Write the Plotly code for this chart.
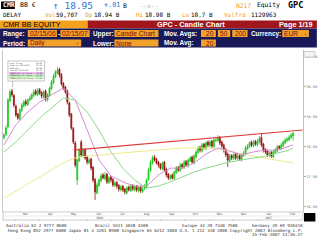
import plotly.graph_objects as go
import pandas as pd

W, H = 320, 243
ML, MR, MT, MB = 3, 14, 50, 31
PW = W - ML - MR
PH = H - MT - MB


def px(x):
    return (x - ML) / PW


def py(y):
    return (H - MB - y) / PH


start, end = "2006-02-15", "2007-02-15"

opens = [18.80, 18.90, 19.15, 20.02, 20.35, 20.20, 19.85, 19.58, 19.42, 19.70,
         19.85, 20.00, 19.90, 20.05, 20.10, 20.20, 20.35, 20.22, 20.40, 20.30,
         20.15, 20.35, 20.05, 20.20, 20.42, 20.62, 20.82, 20.95, 21.08, 20.90,
         20.60, 20.48, 20.35, 19.95, 19.58, 19.10, 18.62, 17.38, 18.02, 18.65,
         18.20, 18.40, 18.15, 17.95, 18.08, 17.80, 17.40, 16.95, 17.20, 17.35,
         17.55, 17.42, 17.58, 17.30, 17.48, 17.40, 17.20, 17.30, 17.20, 17.05,
         17.18, 17.08, 16.95, 17.15, 17.02, 17.20, 17.05, 17.18, 17.02, 17.15,
         17.00, 17.10, 17.15, 17.40, 17.70, 17.95, 18.15, 18.08, 17.98, 17.90,
         17.75, 17.98, 17.75, 17.58, 17.42, 17.55, 17.42, 17.62, 17.80, 17.70,
         17.90, 17.80, 18.00, 17.85, 18.02, 18.15, 17.95, 18.15, 18.30, 18.48,
         18.35, 18.58, 18.42, 18.65, 18.52, 18.68, 18.50, 18.70, 18.70, 18.80,
         18.65, 18.55, 18.40, 18.25, 18.02, 18.20, 18.10, 18.25, 18.10, 18.20,
         18.05, 18.20, 18.25, 18.42, 18.50, 18.65, 18.52, 18.68, 18.55, 18.65,
         18.80, 18.58, 18.40, 18.35, 18.20, 18.30, 18.15, 18.30, 18.35, 18.50,
         18.42, 18.52, 18.62, 18.70, 18.72, 18.80, 18.85]
highs = [18.95, 19.20, 20.12, 20.40, 20.42, 20.25, 19.90, 19.62, 19.78, 19.95,
         20.05, 20.08, 20.10, 20.20, 20.28, 20.40, 20.42, 20.45, 20.45, 20.35,
         20.38, 20.40, 20.28, 20.50, 20.72, 20.92, 21.05, 21.15, 21.12, 20.95,
         20.65, 20.52, 20.40, 20.00, 19.62, 19.15, 18.68, 18.10, 18.45, 18.72,
         18.45, 18.45, 18.20, 18.12, 18.12, 17.85, 17.45, 17.30, 17.45, 17.60,
         17.62, 17.65, 17.62, 17.52, 17.52, 17.45, 17.35, 17.35, 17.25, 17.22,
         17.22, 17.12, 17.18, 17.20, 17.25, 17.25, 17.22, 17.22, 17.18, 17.20,
         17.15, 17.25, 17.45, 17.80, 18.05, 18.20, 18.22, 18.12, 18.02, 17.95,
         18.00, 18.02, 17.80, 17.62, 17.58, 17.60, 17.70, 17.85, 17.85, 17.95,
         17.95, 18.05, 18.05, 18.10, 18.18, 18.20, 18.25, 18.38, 18.52, 18.52,
         18.62, 18.62, 18.68, 18.70, 18.72, 18.72, 18.80, 18.80, 18.88, 18.85,
         18.70, 18.60, 18.45, 18.30, 18.25, 18.25, 18.28, 18.30, 18.25, 18.25,
         18.28, 18.35, 18.52, 18.58, 18.68, 18.70, 18.72, 18.72, 18.75, 18.85,
         18.95, 18.62, 18.45, 18.40, 18.35, 18.35, 18.38, 18.45, 18.55, 18.55,
         18.62, 18.70, 18.78, 18.82, 18.88, 18.95, 18.98]
lows = [18.72, 18.85, 19.10, 19.98, 20.15, 19.80, 19.48, 19.38, 19.38, 19.65,
        19.80, 19.85, 19.85, 20.00, 20.05, 20.15, 20.20, 20.18, 20.22, 20.10,
        20.10, 20.00, 20.00, 20.15, 20.38, 20.58, 20.78, 20.90, 20.80, 20.52,
        20.38, 20.25, 19.90, 19.48, 19.05, 18.58, 17.80, 17.22, 17.98, 18.15,
        18.12, 18.05, 17.90, 17.90, 17.70, 17.30, 16.72, 16.90, 17.15, 17.30,
        17.40, 17.38, 17.25, 17.25, 17.30, 17.15, 17.15, 17.10, 17.00, 17.00,
        16.98, 16.90, 16.90, 17.00, 16.98, 17.02, 17.00, 16.98, 16.98, 16.95,
        16.95, 17.05, 17.10, 17.35, 17.65, 17.90, 18.00, 17.90, 17.80, 17.72,
        17.70, 17.65, 17.48, 17.38, 17.38, 17.40, 17.40, 17.58, 17.65, 17.65,
        17.75, 17.75, 17.82, 17.80, 17.98, 17.92, 17.90, 18.10, 18.25, 18.30,
        18.30, 18.40, 18.38, 18.48, 18.48, 18.45, 18.45, 18.65, 18.65, 18.55,
        18.45, 18.30, 18.15, 17.82, 17.98, 18.05, 18.05, 18.05, 18.05, 18.02,
        18.00, 18.15, 18.20, 18.38, 18.45, 18.48, 18.48, 18.52, 18.50, 18.60,
        18.48, 18.30, 18.25, 18.15, 18.15, 18.12, 18.10, 18.25, 18.30, 18.40,
        18.38, 18.48, 18.58, 18.65, 18.68, 18.75, 18.70]
closes = [18.88, 19.12, 20.05, 20.32, 20.22, 19.88, 19.55, 19.45, 19.72, 19.88,
          19.98, 19.92, 20.05, 20.12, 20.22, 20.32, 20.25, 20.38, 20.28, 20.18,
          20.32, 20.08, 20.22, 20.45, 20.65, 20.85, 20.98, 21.05, 20.88, 20.58,
          20.45, 20.32, 19.98, 19.55, 19.12, 18.65, 17.88, 18.05, 18.38, 18.22,
          18.38, 18.12, 17.98, 18.05, 17.78, 17.38, 16.98, 17.22, 17.38, 17.52,
          17.45, 17.55, 17.32, 17.45, 17.38, 17.22, 17.28, 17.18, 17.08, 17.15,
          17.05, 16.98, 17.12, 17.05, 17.18, 17.08, 17.15, 17.05, 17.12, 17.02,
          17.08, 17.18, 17.38, 17.72, 17.98, 18.12, 18.05, 17.95, 17.88, 17.78,
          17.95, 17.72, 17.55, 17.45, 17.52, 17.45, 17.65, 17.78, 17.72, 17.88,
          17.82, 17.98, 17.88, 18.05, 18.12, 17.98, 18.18, 18.32, 18.45, 18.38,
          18.55, 18.45, 18.62, 18.55, 18.65, 18.52, 18.72, 18.72, 18.78, 18.62,
          18.52, 18.38, 18.22, 18.05, 18.18, 18.12, 18.22, 18.12, 18.18, 18.08,
          18.22, 18.28, 18.45, 18.52, 18.62, 18.55, 18.65, 18.58, 18.68, 18.78,
          18.55, 18.38, 18.32, 18.22, 18.28, 18.18, 18.32, 18.38, 18.48, 18.45,
          18.55, 18.65, 18.72, 18.75, 18.82, 18.88, 18.95]

ma_idx = [0, 6, 12, 18, 24, 30, 36, 42, 48, 54, 60, 66, 72, 78, 84, 90, 96,
          102, 108, 114, 120, 126, 132, 138, 144, 146]
ma20 = [18.55, 19.22, 19.65, 19.98, 20.22, 20.45, 20.05, 19.05, 18.05, 17.52,
        17.32, 17.18, 17.18, 17.55, 17.78, 17.78, 17.95, 18.25, 18.45, 18.35,
        18.22, 18.32, 18.38, 18.38, 18.52, 18.55]
ma50 = [18.32, 18.65, 19.05, 19.45, 19.78, 20.12, 20.05, 19.65, 19.05, 18.32,
        17.78, 17.38, 17.12, 17.18, 17.32, 17.48, 17.65, 17.78, 17.88, 17.98,
        18.05, 18.12, 18.18, 18.28, 18.38, 18.45]
ma200 = [16.78, 17.02, 17.25, 17.48, 17.72, 17.95, 18.12, 18.18, 18.22, 18.25,
         18.28, 18.32, 18.35, 18.38, 18.42, 18.45, 18.45, 18.45, 18.42, 18.35,
         18.25, 18.18, 18.12, 18.05, 17.98, 17.95]

trend_dates = ["2006-05-14", "2007-02-27"]
trend_prices = [18.38, 19.05]

ytick_vals = [16.5, 17.5, 18.5, 19.5, 20.5, 21.5]
month_ticks = pd.date_range("2006-03-01", "2007-02-01", freq="MS")
month_names = ["Mar", "Apr", "May", "Jun", "Jul", "Aug", "Sep", "Oct", "Nov", "Dec", "Jan", "Feb"]

dates = pd.date_range(start, end, periods=len(closes))
ma_dates = [dates[i] for i in ma_idx]

fig = go.Figure()
fig.add_trace(go.Scatter(x=ma_dates, y=ma200, mode="lines", line=dict(color="#ecec8a", width=1), hoverinfo="skip", showlegend=False))
fig.add_trace(go.Scatter(x=ma_dates, y=ma50, mode="lines", line=dict(color="#8cd88c", width=1), hoverinfo="skip", showlegend=False))
fig.add_trace(go.Scatter(x=ma_dates, y=ma20, mode="lines", line=dict(color="#d58ad5", width=1), hoverinfo="skip", showlegend=False))
fig.add_trace(go.Scatter(x=trend_dates, y=trend_prices, mode="lines", line=dict(color="#e03a3a", width=1.2), hoverinfo="skip", showlegend=False))
fig.add_trace(go.Candlestick(
    x=dates, open=opens, high=highs, low=lows, close=closes,
    increasing=dict(line=dict(color="#22c822", width=0.8), fillcolor="#22c822"),
    decreasing=dict(line=dict(color="#9a1010", width=0.8), fillcolor="#9a1010"),
    whiskerwidth=0, showlegend=False, hoverinfo="skip"))

shapes = []
annotations = []


def rect(x0, y0, x1, y1, fill, line=None, lw=0):
    shapes.append(dict(type="rect", xref="paper", yref="paper", x0=px(x0), x1=px(x1), y0=py(y1), y1=py(y0),
                       fillcolor=fill, line=dict(color=line or fill, width=lw), layer="above"))


def hline(x0, y0, x1, y1, color, w=1):
    shapes.append(dict(type="line", xref="paper", yref="paper", x0=px(x0), x1=px(x1), y0=py(y0), y1=py(y1),
                       line=dict(color=color, width=w), layer="above"))


def txt(x, y, s, size, color="#000", anchor="left", family="DejaVu Sans Mono", bold=False):
    if bold:
        s = "<b>" + s + "</b>"
    annotations.append(dict(xref="paper", yref="paper", x=px(x), y=py(y), text=s, showarrow=False,
                            xanchor=anchor, yanchor="middle", font=dict(size=size, color=color, family=family),
                            borderpad=0))


# ---- header rows ----
rect(1, 1.5, 15, 9, "#000000")
txt(2, 5.3, "CMR", 6.5, "#ffffff", bold=True)
txt(19, 5.3, "BB €", 6.5, "#000000")
txt(52, 5.3, "↑ 18.95", 9.5, "#2f6fd6")
txt(104, 5.3, "+.01", 6.8, "#2f6fd6")
txt(123, 5.3, "B", 6.3, "#000")
txt(140, 5.3, "--x--", 6, "#aaaaaa")
txt(237, 5.3, "N217", 6.3, "#f0a030")
txt(259, 5.3, "Equity", 6.3, "#000")
txt(290, 5.3, "GPC", 8.5, "#000", bold=True)

R2 = 14.8
txt(2, R2, "DELAY", 6, "#000")
txt(44, R2, "Vol", 6, "#f0a030")
txt(56, R2, "59,707", 6, "#000")
txt(85, R2, "Op", 6, "#f0a030")
txt(94, R2, "18.94 B", 6, "#000")
txt(136, R2, "Hi", 6, "#f0a030")
txt(145, R2, "18.98 B", 6, "#000")
txt(183, R2, "Lo", 6, "#f0a030")
txt(192, R2, "18.7 B", 6, "#000")
txt(225, R2, "ValTrd", 6, "#f0a030")
txt(252, R2, "1129963", 6, "#000")

# title bar
rect(0, 20.5, 88.5, 28.5, "#f4a21c")
rect(88.5, 20.5, 320, 28.5, "#a0161c")
txt(2, 24.7, "CMR BB EQUITY", 7.3, "#000", family="Liberation Sans")
txt(158, 24.7, "GPC - Candle Chart", 7.3, "#ffffff", family="Liberation Sans", bold=True)
txt(317, 24.7, "Page 1/19", 7.3, "#ffffff", anchor="right", family="Liberation Sans", bold=True)

# navy parameter rows
rect(0, 28.5, 320, 47.5, "#19195a")
BOX = "#f2a12a"
BT = "#7a0c0c"
LF = 6.4
txt(2, 33.5, "Range:", LF, "#fff", family="Liberation Sans", bold=True)
rect(28, 30, 57.5, 37, BOX)
txt(29, 33.5, "02/15/06", 6.6, BT, family="Liberation Sans")
txt(58, 33.5, "-", LF, "#fff", family="Liberation Sans", bold=True)
rect(61, 30, 90.5, 37, BOX)
txt(62, 33.5, "02/15/07", 6.6, BT, family="Liberation Sans")
txt(93, 33.5, "Upper:", LF, "#fff", family="Liberation Sans", bold=True)
rect(115.5, 30, 160, 37, BOX)
txt(116.5, 33.5, "Candle Chart", 6.6, BT, family="Liberation Sans")
txt(165, 33.5, "Mov. Avgs:", LF, "#fff", family="Liberation Sans", bold=True)
rect(203, 30, 218, 37, BOX)
txt(217, 33.5, "20", 6.6, BT, anchor="right", family="Liberation Sans")
rect(220, 30, 232.5, 37, BOX)
txt(231.5, 33.5, "50", 6.6, BT, anchor="right", family="Liberation Sans")
rect(234.5, 30, 250, 37, BOX)
txt(249, 33.5, "200", 6.6, BT, anchor="right", family="Liberation Sans")
txt(252, 33.5, "Currency:", LF, "#fff", family="Liberation Sans", bold=True)
rect(285, 30, 312, 37, BOX)
txt(286, 33.5, "EUR", 6.6, BT, family="Liberation Sans")
txt(311, 33.8, "▾", 5, "#a05a10", anchor="right")

txt(2, 43, "Period:", LF, "#fff", family="Liberation Sans", bold=True)
rect(28, 39.5, 82, 46.5, BOX)
txt(29, 43, "Daily", 6.6, BT, family="Liberation Sans")
txt(81, 43.3, "▾", 5, "#a05a10", anchor="right")
txt(93, 43, "Lower:", LF, "#fff", family="Liberation Sans", bold=True)
rect(115.5, 39.5, 160, 46.5, BOX)
txt(116.5, 43, "None", 6.6, BT, family="Liberation Sans")
txt(165, 43, "Mov. Avg:", LF, "#fff", family="Liberation Sans", bold=True)
rect(203, 39.5, 218, 46.5, BOX)
txt(217, 43, "20", 6.6, BT, anchor="right", family="Liberation Sans")

# small box top right of chart
rect(307, 51.5, 318, 57, "#f4f4f4", "#b0b0b0", 0.6)

# chart frame
hline(2.5, 50, 2.5, 212, "#b8b8b8", 0.8)

# legend box
rect(8, 61, 45, 81, "#ffffff", "#9a9a9a", 0.6)
leg_rows = [("Last Price", "18.95", None),
            ("High on 04/24/06", "21.15", None),
            ("Average", "18.69", None),
            ("Low on 06/12/06", "16.72", None),
            ("SMAVG(20) on Close", "18.55", "#f0b8f0"),
            ("SMAVG(50) on Close", "18.45", "#b8ecb8"),
            ("SMAVG(200) on Close", "17.95", "#e0f6d0")]
for k, (lab, val, bg) in enumerate(leg_rows):
    yy = 63.3 + k * 2.5
    if bg:
        rect(8.6, yy - 1.2, 44.4, yy + 1.2, bg)
    txt(9.2, yy, lab, 2.0, "#444")
    txt(44, yy, val, 2.0, "#444", anchor="right")
hline(12.7, 81, 12.7, 87, "#9a9a9a", 0.6)

# x-axis band
rect(3, 212, 306, 220, "#ffffff", "#a8a8a8", 0.6)
hline(3, 216, 306, 216, "#d0d0d0", 0.5)
for d, name in zip(month_ticks, month_names):
    annotations.append(dict(xref="x", yref="paper", x=d + pd.Timedelta(days=14), y=py(214), text=name,
                            showarrow=False, xanchor="center", yanchor="middle",
                            font=dict(size=3, color="#555", family="DejaVu Sans Mono")))
for d, name in [(pd.Timestamp("2006-06-15"), "2006"), (pd.Timestamp("2007-01-15"), "2007")]:
    annotations.append(dict(xref="x", yref="paper", x=d, y=py(218.2), text=name,
                            showarrow=False, xanchor="center", yanchor="middle",
                            font=dict(size=3, color="#555", family="DejaVu Sans Mono")))
rect(307, 213, 318.5, 221.5, "#000000")

# footer
FF = "DejaVu Sans Mono"
txt(5, 225.5, "Australia 61 2 9777 8600", 4.2, "#333", family=FF)
txt(95, 225.5, "Brazil 5511 3048 4500", 4.2, "#333", family=FF)
txt(183, 225.5, "Europe 44 20 7330 7500", 4.2, "#333", family=FF)
txt(307, 225.5, "Germany 49 69 920410", 4.2, "#333", anchor="right", family=FF)
txt(307, 230, "Hong Kong 852 2977 6000 Japan 81 3 3201 8900 Singapore 65 6212 1000 U.S. 1 212 318 2000 Copyright 2007 Bloomberg L.P.",
    4.2, "#333", anchor="right", family=FF)
txt(307, 234.5, "15-Feb-2007 14:26:27", 4.2, "#333", anchor="right", family=FF)

fig.update_layout(
    width=W, height=H, autosize=False,
    margin=dict(l=ML, r=MR, t=MT, b=MB, pad=0),
    paper_bgcolor="#ffffff", plot_bgcolor="#ffffff",
    showlegend=False,
    shapes=shapes, annotations=annotations,
    xaxis=dict(range=[pd.Timestamp("2006-02-13 18:00"), pd.Timestamp("2007-02-27 12:00")],
               rangeslider=dict(visible=False), showgrid=False, zeroline=False, showline=False,
               tickvals=list(month_ticks), ticks="outside", ticklen=8, tickwidth=0.6, tickcolor="#a8a8a8",
               showticklabels=False, fixedrange=True),
    yaxis=dict(side="right", range=[16.317, 21.717], tickvals=ytick_vals,
               ticktext=["%.2f" % v for v in ytick_vals],
               tickfont=dict(size=3.5, color="#666", family="DejaVu Sans Mono"),
               ticks="outside", ticklen=2, tickcolor="#aaa", showline=True, linecolor="#b0b0b0",
               linewidth=0.8, showgrid=False, zeroline=False, fixedrange=True),
)

fig.write_html("out.html", config={"displayModeBar": False, "staticPlot": True})
